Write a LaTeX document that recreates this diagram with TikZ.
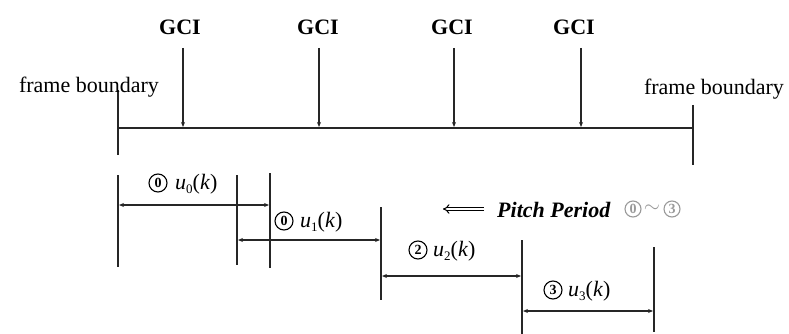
\documentclass[tikz,border=0pt]{standalone}
\usepackage{fontspec}
\setmainfont{Liberation Serif}
\usetikzlibrary{arrows.meta}
\newcommand{\uk}[1]{\textit{u}\raisebox{-4pt}{\fontsize{13}{13}\selectfont #1}(\textit{k})}
\begin{document}
\begin{tikzpicture}[x=1pt,y=-1pt,
  txt/.style={font=\fontsize{22}{24}\selectfont, inner sep=0pt},
  gcilab/.style={font=\fontsize{22}{24}\selectfont\bfseries, inner sep=0pt},
  cnum/.style={draw, circle, line width=1.1pt, inner sep=0pt, minimum size=18pt, font=\fontsize{14}{14}\selectfont\bfseries},
  gcnum/.style={cnum, draw=black!40, text=black!40, minimum size=16pt},
  ln/.style={line width=1.3pt, black!85},
  gciarrow/.style={line width=1.3pt, black!85, -{Stealth[length=5pt,width=4pt]}},
  seg/.style={line width=1.3pt, black!85, {Stealth[length=5pt,width=4pt]}-{Stealth[length=5pt,width=4pt]}}]
\useasboundingbox (0,0) rectangle (789,334);

% GCI labels and arrows
\node[gcilab] (g1) at (180,27) {GCI};
\node[gcilab] (g2) at (318,27) {GCI};
\node[gcilab] (g3) at (452,27) {GCI};
\node[gcilab] (g4) at (574,27) {GCI};
\coordinate (a1) at (183,48); \coordinate (b1) at (183,127);
\coordinate (a2) at (319,48); \coordinate (b2) at (319,127);
\coordinate (a3) at (454,48); \coordinate (b3) at (454,127);
\coordinate (a4) at (581,48); \coordinate (b4) at (581,127);
\draw[gciarrow] (a1) -- (b1);
\draw[gciarrow] (a2) -- (b2);
\draw[gciarrow] (a3) -- (b3);
\draw[gciarrow] (a4) -- (b4);

% main line and frame boundaries
\coordinate (L) at (118,128); \coordinate (R) at (693,128);
\draw[ln] (L) -- (R);
\coordinate (fl1) at (118,90); \coordinate (fl2) at (118,155);
\coordinate (fr1) at (693,105); \coordinate (fr2) at (693,165);
\draw[ln] (fl1) -- (fl2);
\draw[ln] (fr1) -- (fr2);
\node[txt] (fbl) at (89,87) {frame boundary};
\node[txt] (fbr) at (714,89) {frame boundary};

% segment verticals
\coordinate (v0t) at (118,175); \coordinate (v0b) at (118,267);
\coordinate (v1t) at (237,175); \coordinate (v1b) at (237,265);
\coordinate (v2t) at (270,173); \coordinate (v2b) at (270,268);
\coordinate (v3t) at (381,207); \coordinate (v3b) at (381,300);
\coordinate (v4t) at (522,240); \coordinate (v4b) at (522,334);
\coordinate (v5t) at (654,247); \coordinate (v5b) at (654,332);
\draw[ln] (v0t) -- (v0b);
\draw[ln] (v1t) -- (v1b);
\draw[ln] (v2t) -- (v2b);
\draw[ln] (v3t) -- (v3b);
\draw[ln] (v4t) -- (v4b);
\draw[ln] (v5t) -- (v5b);

% segment arrows
\coordinate (s0a) at (119,205); \coordinate (s0b) at (269,205);
\coordinate (s1a) at (238,240); \coordinate (s1b) at (380,240);
\coordinate (s2a) at (382,276); \coordinate (s2b) at (521,276);
\coordinate (s3a) at (523,311); \coordinate (s3b) at (653,311);
\draw[seg] (s0a) -- (s0b);
\draw[seg] (s1a) -- (s1b);
\draw[seg] (s2a) -- (s2b);
\draw[seg] (s3a) -- (s3b);

% segment labels
\node[cnum] (c0) at (158,183) {0};
\node[txt, anchor=west] (l0) at (175,184) {\uk{0}};
\node[cnum] (c1) at (284,221) {0};
\node[txt, anchor=west] (l1) at (300,222) {\uk{1}};
\node[cnum] (c2) at (418,250) {2};
\node[txt, anchor=west] (l2) at (433,251) {\uk{2}};
\node[cnum] (c3) at (553,290) {3};
\node[txt, anchor=west] (l3) at (568,291) {\uk{3}};

% pitch period note
\coordinate (pa) at (484,209); \coordinate (pb) at (443,209);
\draw[line width=1pt, double distance=2.2pt, -{Implies}] (pa) -- (pb);
\node[txt, anchor=west] (pp) at (497,210) {\textbf{\textit{Pitch Period}}};
\node[gcnum] (p0) at (633,209) {0};
\node[txt, text=black!40, anchor=center] (pt) at (652,209) {$\sim$};
\node[gcnum] (p3) at (672,209) {3};
\end{tikzpicture}
\end{document}
